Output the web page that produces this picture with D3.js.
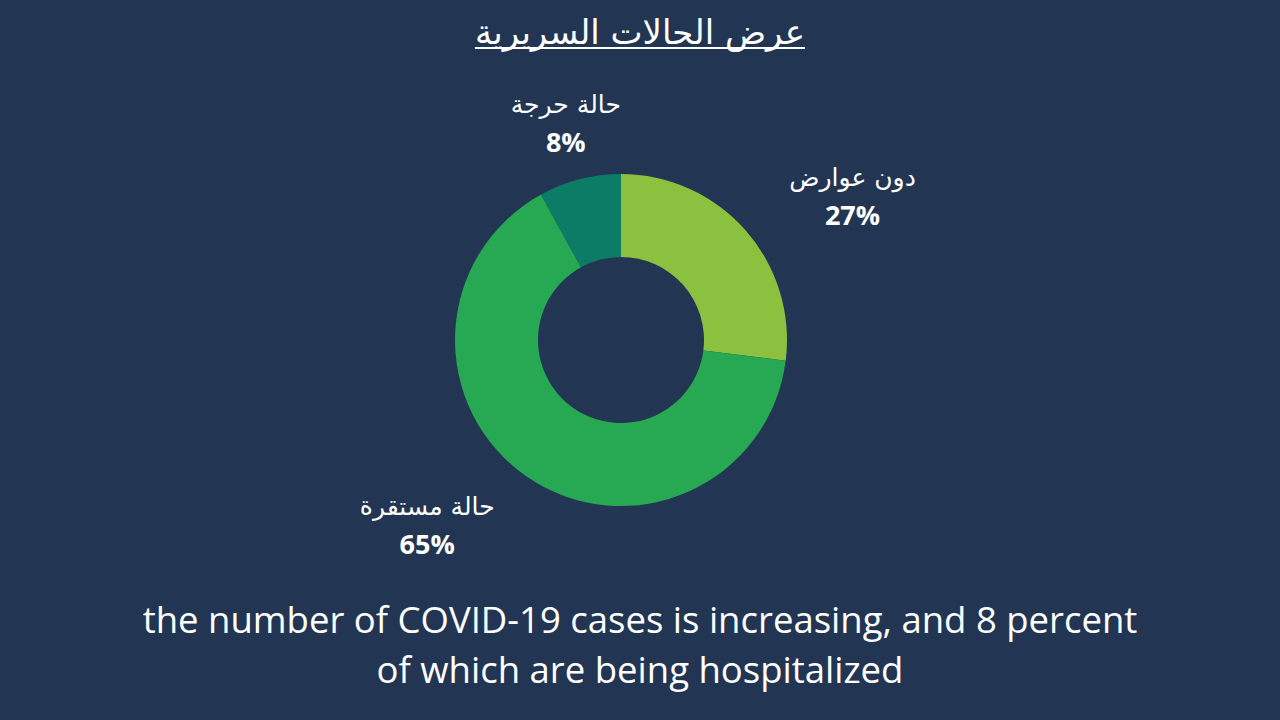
<!DOCTYPE html>
<html>
<head>
<meta charset="utf-8">
<script src="https://cdn.jsdelivr.net/npm/d3@7"></script>
<style>
  html, body { margin: 0; padding: 0; background: #223653; }
  svg { display: block; }
</style>
</head>
<body>
<svg width="1280" height="720"></svg>
<script>
// data
var categories = ["دون عوارض", "حالة مستقرة", "حالة حرجة"];
var values = [27, 65, 8];
var colors = ["#8bc13f", "#27a852", "#0d7c66"];
var title = "عرض الحالات السريرية";
var caption = ["the number of COVID-19 cases is increasing, and 8 percent",
               "of which are being hospitalized"];

var width = 1280, height = 720;
var cx = 621, cy = 340;
var outerR = 166, innerR = 83;

// label nudges away from the centroid, in px
var labelNudge = [[65, 5], [-69, 3], [0, 0]];

var svg = d3.select("svg");

svg.append("rect")
  .attr("width", width)
  .attr("height", height)
  .attr("fill", "#223653");

// title
var t = svg.append("text")
  .attr("x", 640)
  .attr("y", 44)
  .attr("text-anchor", "middle")
  .attr("direction", "rtl")
  .attr("fill", "#ffffff")
  .style("font-family", "'DejaVu Sans', 'Noto Sans', sans-serif")
  .style("font-size", "34px")
  .text(title);

var tb = t.node().getBBox();
svg.append("line")
  .attr("x1", tb.x)
  .attr("x2", tb.x + tb.width)
  .attr("y1", 48)
  .attr("y2", 48)
  .attr("stroke", "#ffffff")
  .attr("stroke-width", 2);

// donut
var data = categories.map(function(c, i) {
  return {name: c, value: values[i], color: colors[i]};
});

var pie = d3.pie()
  .value(function(d) { return d.value; })
  .sort(null);

var arc = d3.arc()
  .innerRadius(innerR)
  .outerRadius(outerR);

var labelArc = d3.arc()
  .innerRadius(222)
  .outerRadius(222);

var g = svg.append("g")
  .attr("transform", "translate(" + cx + "," + cy + ")");

var slices = pie(data);

g.selectAll("path")
  .data(slices)
  .enter().append("path")
  .attr("d", arc)
  .attr("fill", function(d) { return d.data.color; });

var lbl = g.selectAll("g.lbl")
  .data(slices)
  .enter().append("g")
  .attr("class", "lbl")
  .attr("transform", function(d, i) {
    var p = labelArc.centroid(d);
    return "translate(" + (p[0] + labelNudge[i][0]) + "," + (p[1] + labelNudge[i][1]) + ")";
  });

lbl.append("text")
  .attr("y", -12)
  .attr("text-anchor", "middle")
  .attr("direction", "rtl")
  .attr("fill", "#ffffff")
  .style("font-family", "'DejaVu Sans', sans-serif")
  .style("font-size", "25px")
  .text(function(d) { return d.data.name; });

lbl.append("text")
  .attr("y", 27)
  .attr("text-anchor", "middle")
  .attr("fill", "#ffffff")
  .style("font-family", "'Open Sans', sans-serif")
  .style("font-weight", "bold")
  .style("font-size", "27px")
  .text(function(d) { return d.data.value + "%"; });

// caption
svg.selectAll("text.cap")
  .data(caption)
  .enter().append("text")
  .attr("class", "cap")
  .attr("x", 640)
  .attr("y", function(d, i) { return 633 + i * 50; })
  .attr("text-anchor", "middle")
  .attr("fill", "#ffffff")
  .style("font-family", "'Open Sans', sans-serif")
  .style("font-size", "36.5px")
  .text(function(d) { return d; });
</script>
</body>
</html>
